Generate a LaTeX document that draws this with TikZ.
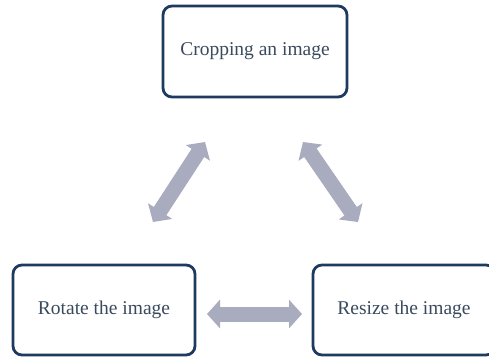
\documentclass[tikz,border=0pt]{standalone}
\usepackage{fontspec}
\setmainfont{Liberation Serif}
\usetikzlibrary{arrows.meta}
\definecolor{boxline}{HTML}{1F3A5F}
\definecolor{txtc}{HTML}{3A4A5E}
\definecolor{arrc}{HTML}{A9ABBE}
\begin{document}
\begin{tikzpicture}[x=1pt,y=1pt,
  stepbox/.style={draw=boxline, line width=2.8pt, rounded corners=9pt, fill=white,
    minimum width=182pt, minimum height=90pt, inner sep=0pt,
    font=\fontsize{19.5}{23}\selectfont, text=txtc},
  bigarrow/.style={draw=arrc, line width=15pt,
    {Triangle[length=13pt,width=28pt]}-{Triangle[length=13pt,width=28pt]}}]
\clip (0,0) rectangle (489,360);
\fill[white] (0,0) rectangle (489,360);
\node[stepbox, minimum width=184pt, minimum height=91pt] (crop) at (255,308.5) {Cropping an image};
\node[stepbox] (rot) at (104,50) {Rotate the image};
\node[stepbox] (res) at (404,50) {Resize the image};
\coordinate (l1) at (153,138);
\coordinate (l2) at (205,218);
\coordinate (r1) at (303,218);
\coordinate (r2) at (358,138);
\coordinate (h1) at (207,46);
\coordinate (h2) at (302,46);
\draw[bigarrow] (l1) -- (l2);
\draw[bigarrow] (r1) -- (r2);
\draw[bigarrow] (h1) -- (h2);
\end{tikzpicture}
\end{document}
